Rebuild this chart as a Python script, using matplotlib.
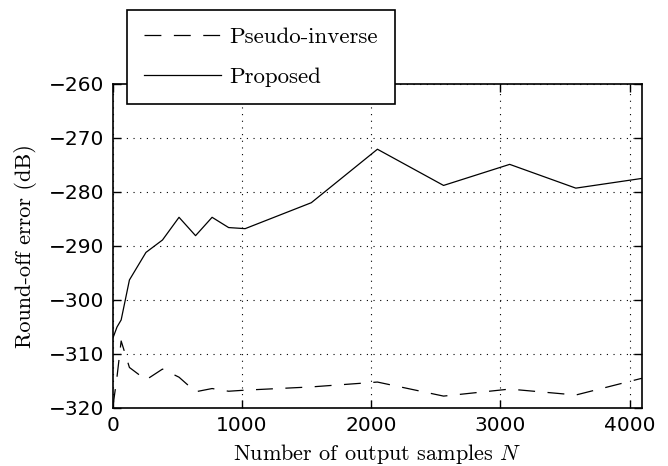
import matplotlib
matplotlib.use("Agg")
import matplotlib.pyplot as plt
import numpy as np

# samples N and round-off error (dB)
n_samples = [1, 32, 64, 128, 256, 384, 512, 640, 768, 896, 1024,
             1536, 2048, 2560, 3072, 3584, 4096]
pseudo_inverse = [-319.6, -314.2, -307.6, -312.5, -314.8, -312.8, -314.3,
                  -317.0, -316.4, -316.9, -316.7, -316.1, -315.2, -317.8,
                  -316.5, -317.6, -314.5]
proposed = [-307.0, -305.0, -303.7, -296.3, -291.2, -288.9, -284.7, -288.1,
            -284.7, -286.6, -286.8, -282.0, -272.1, -278.8, -274.9, -279.3,
            -277.5]

plt.rcParams['mathtext.fontset'] = 'cm'
plt.rcParams['axes.linewidth'] = 1.2

fig = plt.figure(figsize=(6.68, 4.66), dpi=100)
ax = fig.add_axes([0.169, 0.1245, 0.792, 0.6955])

ax.plot(n_samples, pseudo_inverse, color='black', lw=0.9, dashes=(13.5, 10),
        label='Pseudo-inverse')
ax.plot(n_samples, proposed, color='black', lw=0.9, label='Proposed')

ax.set_xlim(0, 4096)
ax.set_ylim(-320, -260)
ax.set_xticks([0, 1000, 2000, 3000, 4000])
ax.set_yticks(np.arange(-320, -259, 10))
ax.grid(True, color='black', linestyle=(0, (1, 5)), linewidth=0.8)
ax.tick_params(direction='in', top=True, right=True, length=6, width=1,
               labelsize=14.5, pad=6)
for lab in ax.get_xticklabels() + ax.get_yticklabels():
    lab.set_family('DejaVu Sans')

ax.set_xlabel('Number of output samples $N$', family='cmr10', fontsize=16,
              labelpad=5)
ax.set_ylabel('Round-off error (dB)', family='cmr10', fontsize=16,
              labelpad=9)

leg = ax.legend(loc='upper left', bbox_to_anchor=(127 / 668, 1 - 10 / 466),
                bbox_transform=fig.transFigure, prop={'family': 'cmr10', 'size': 16.5},
                frameon=True, fancybox=False, edgecolor='black',
                handlelength=3.35, handletextpad=0.35, borderpad=0.75,
                labelspacing=0.85, borderaxespad=0)
leg.get_frame().set_linewidth(1.2)
leg.get_frame().set_alpha(1)

fig.savefig('out.png', dpi=100)
